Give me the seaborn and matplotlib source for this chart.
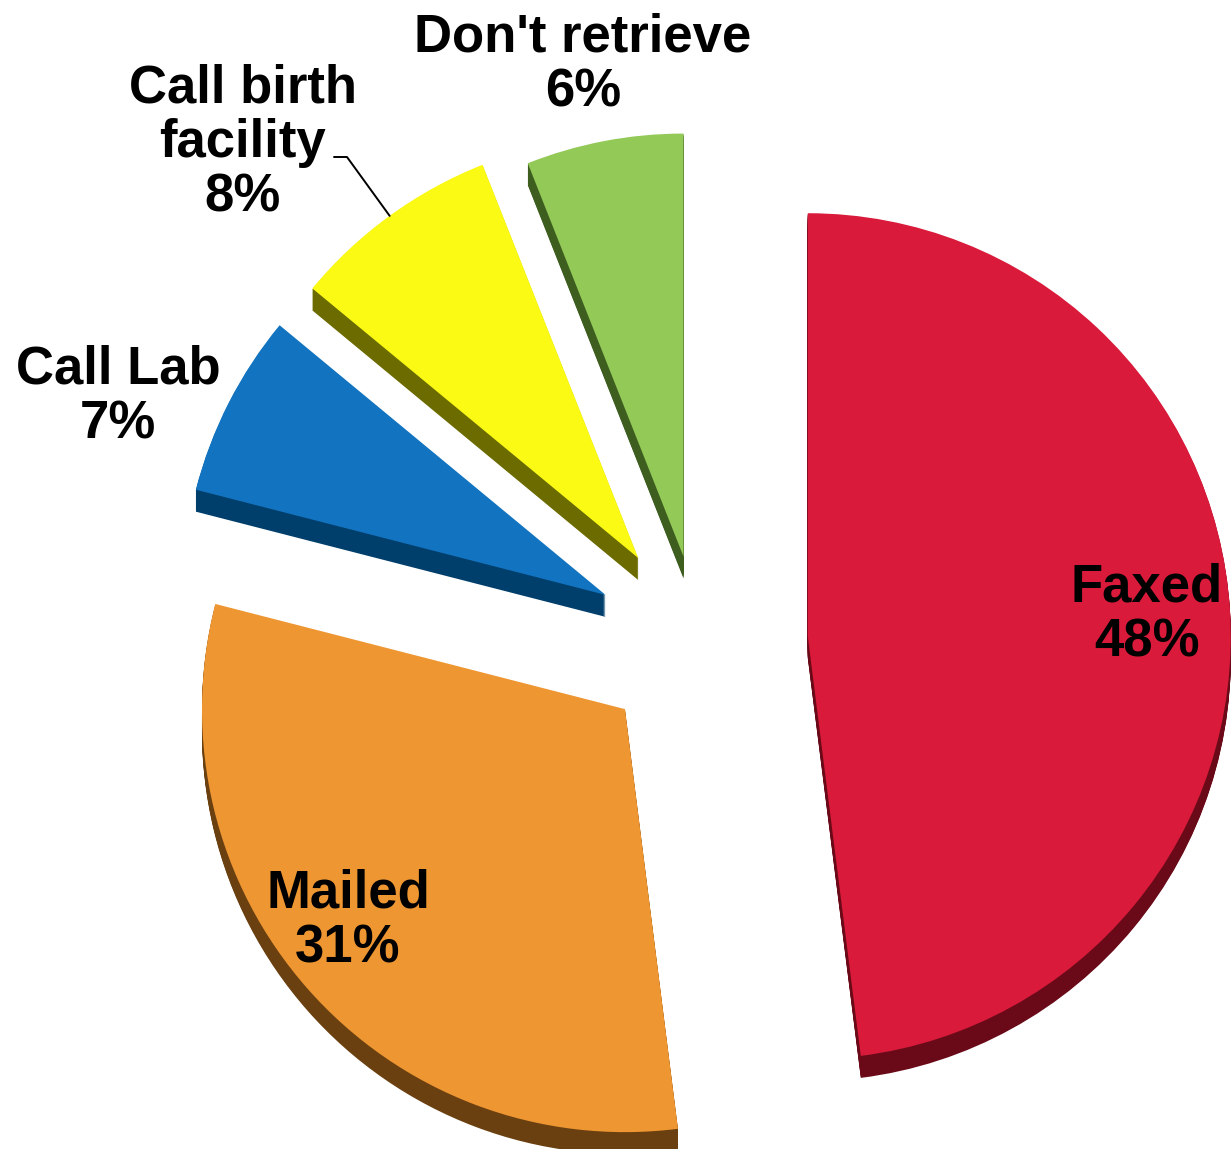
# Exploded "3D" pie of how results were retrieved
import numpy as np
import matplotlib.pyplot as plt
import seaborn as sns

sns.set_theme(style="white")
plt.rcParams['font.family'] = ['Liberation Sans', 'DejaVu Sans']

# data
categories = ["Faxed", "Mailed", "Call Lab", "Call birth\nfacility", "Don't retrieve"]
shares = [48, 31, 7, 8, 6]

top_colors = ["#D91A3A", "#EE9632", "#1274C0", "#FAFA14", "#92C957"]
side_colors = ["#6A0A18", "#6B4010", "#003F6C", "#6B6B00", "#3E5E20"]

W, H = 1231, 1149
R = 423
cx, cy = 700, H - 643
explode = [108, 100, 106, 105, 88]
depth = 22

fig = plt.figure(figsize=(W / 100, H / 100), dpi=100)
ax = fig.add_axes([0, 0, 1, 1])

# side walls: stacked darker copies shifted down
for k in range(depth, 0, -1):
    ax.pie(shares, explode=explode, colors=side_colors, startangle=90,
           counterclock=False, radius=R, center=(cx, cy - k), frame=True,
           wedgeprops=dict(linewidth=0))

wedges, _ = ax.pie(shares, explode=explode, colors=top_colors, startangle=90,
                   counterclock=False, radius=R, center=(cx, cy), frame=True,
                   wedgeprops=dict(linewidth=0))

# label positions (image pixels, y down)
label_pos = [(1147, 615), (348, 921), (118, 397), (243, 143), (583, 65)]
for lab, val, (px, py) in zip(categories, shares, label_pos):
    ax.text(px, H - py, f"{lab}\n{val}%", ha="center", va="center",
            fontsize=38, fontweight="bold", color="black", linespacing=1.12)

# leader line for "Call birth facility"
w = wedges[3]
mid = np.deg2rad((w.theta1 + w.theta2) / 2)
rim = (w.center[0] + w.r * np.cos(mid), w.center[1] + w.r * np.sin(mid))
ax.plot([334, 347, rim[0]], [H - 157, H - 157, rim[1]], color="black", lw=1.4)

ax.set_xlim(0, W)
ax.set_ylim(0, H)
ax.set_aspect("equal")
ax.axis("off")

fig.savefig("out.png", dpi=100, facecolor="white")
